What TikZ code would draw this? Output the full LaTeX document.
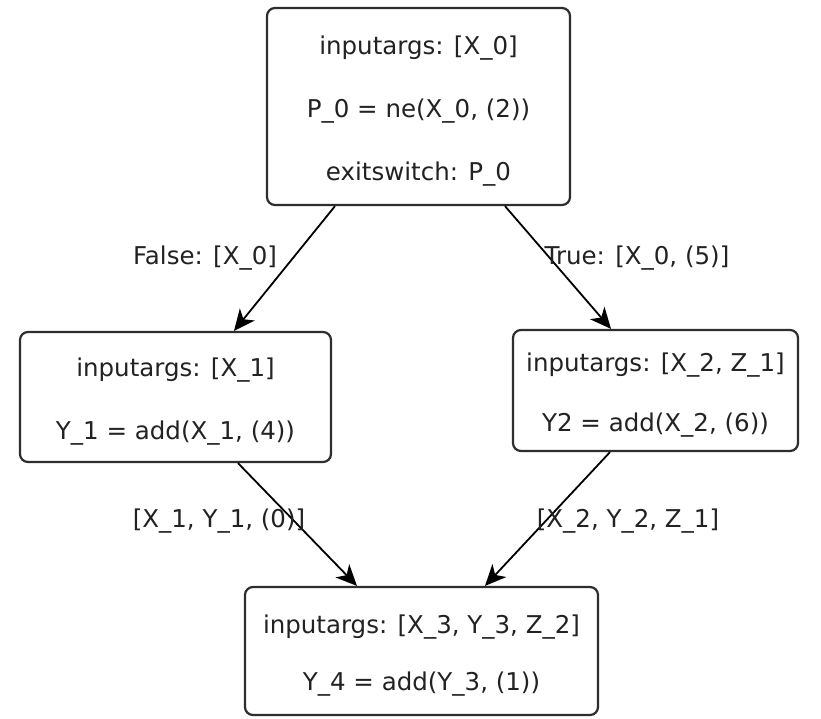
\documentclass[tikz,border=0pt]{standalone}
\usepackage{fontspec}
\setmainfont{DejaVu Sans}
\usetikzlibrary{arrows.meta,calc}
\definecolor{ink}{HTML}{222222}
\definecolor{frame}{HTML}{2E2E2E}
% block text size with a given line spacing
\newcommand{\blockfont}[1]{\fontsize{24.5}{#1}\selectfont}
% raises the top of the first line so the text block sits a little lower
\newcommand{\toplift}{\rule{0pt}{28pt}}
\begin{document}
\begin{tikzpicture}[x=1pt,y=-1pt,
  block/.style={draw=frame, line width=2.2pt, rounded corners=8pt, fill=white,
    inner sep=0pt, align=center, text=ink},
  lbl/.style={inner sep=0pt, text=ink, font=\fontsize{24.5}{29}\selectfont},
  flow/.style={draw=black, line width=1.8pt,
    -{Stealth[length=21pt, width=19pt, inset=6pt]}}]
\useasboundingbox (0,0) rectangle (821,718);
\fill[white] (0,0) rectangle (821,718);

% blocks
\node[block, font=\blockfont{63}, minimum width=303pt, minimum height=197pt] (top) at (418.5,106.5)
  {\toplift inputargs: [X\_0]\\P\_0 = ne(X\_0, (2))\\exitswitch: P\_0};
\node[block, font=\blockfont{63}, minimum width=311pt, minimum height=130pt] (left) at (175.5,397)
  {\toplift inputargs: [X\_1]\\Y\_1 = add(X\_1, (4))};
\node[block, font=\blockfont{60}, minimum width=285pt, minimum height=121pt] (right) at (655.5,390.5)
  {\toplift inputargs: [X\_2, Z\_1]\\Y2 = add(X\_2, (6))};
\node[block, font=\blockfont{57}, minimum width=353pt, minimum height=128pt] (bottom) at (421.5,651)
  {\toplift inputargs: [X\_3, Y\_3, Z\_2]\\Y\_4 = add(Y\_3, (1))};

% connectors
\draw[flow] ($(top.south)+(-83.5,0)$) -- ($(left.north)+(58.5,0)$);
\draw[flow] ($(top.south)+(86.5,0)$) -- ($(right.north)+(-44.5,0)$);
\draw[flow] ($(left.south)+(62.5,0)$) -- ($(bottom.north)+(-64.5,0)$);
\draw[flow] ($(right.south)+(-45.5,0)$) -- ($(bottom.north)+(63.5,0)$);

% connector labels
\node[lbl] (lfalse) at (205,258) {False: [X\_0]};
\node[lbl] (ltrue) at (637,258) {True: [X\_0, (5)]};
\node[lbl] (lleft) at (219,521) {[X\_1, Y\_1, (0)]};
\node[lbl] (lright) at (628,521) {[X\_2, Y\_2, Z\_1]};
\end{tikzpicture}
\end{document}
